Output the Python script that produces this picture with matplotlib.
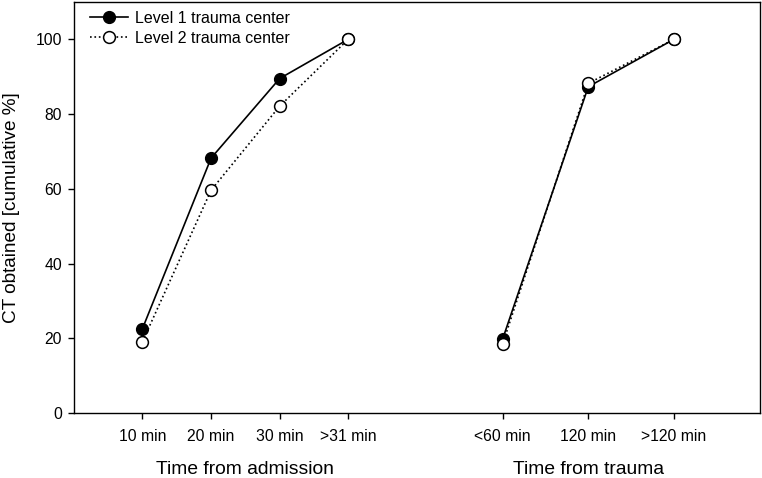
import numpy as np
import matplotlib.pyplot as plt

plt.rcParams['font.family'] = ['Liberation Sans', 'DejaVu Sans']

# group 1: time from admission, group 2: time from trauma
adm_labels = ['10 min', '20 min', '30 min', '>31 min']
adm_x = [10, 20, 30, 40]
adm_l1 = [22.6, 68.2, 89.5, 100]
adm_l2 = [19.1, 59.6, 82.1, 100]

tra_labels = ['<60 min', '120 min', '>120 min']
tra_x = [62.5, 75, 87.5]
tra_l1 = [19.7, 87.3, 100]
tra_l2 = [18.4, 88.2, 100]

yticks = [0, 20, 40, 60, 80, 100]

fig = plt.figure(figsize=(7.62, 4.78), dpi=100)
ax = fig.add_axes([0.097, 0.136, 0.9, 0.86])

l1 = dict(color='black', lw=1.2, marker='o', ms=8.5, mfc='black', mec='black', mew=1)
l2 = dict(color='black', lw=1.2, ls=':', marker='o', ms=8.5, mfc='white', mec='black', mew=1.1)

ax.plot(adm_x, adm_l1, label='Level 1 trauma center', **l1)
ax.plot(tra_x, tra_l1, **l1)
ax.plot(adm_x, adm_l2, label='Level 2 trauma center', **l2)
ax.plot(tra_x, tra_l2, **l2)

ax.set_xlim(0, 100)
ax.set_ylim(0, 110)
ax.set_xticks(adm_x + tra_x)
ax.set_xticklabels(adm_labels + tra_labels)
ax.set_yticks(yticks)
ax.tick_params(direction='out', length=4.5, width=1, labelsize=11.3, colors='black')
ax.tick_params(axis='x', pad=7)
ax.tick_params(axis='y', pad=4)
for s in ax.spines.values():
    s.set_linewidth(1)

ax.set_ylabel('CT obtained [cumulative %]', fontsize=13.7, labelpad=11)
ax.text(np.mean(adm_x), -0.148, 'Time from admission', fontsize=13.9,
        ha='center', va='baseline', transform=ax.get_xaxis_transform())
ax.text(np.mean(tra_x), -0.148, 'Time from trauma', fontsize=13.9,
        ha='center', va='baseline', transform=ax.get_xaxis_transform())

ax.legend(loc='upper left', bbox_to_anchor=(0.014, 0.994), borderaxespad=0,
          frameon=False, fontsize=11.5, handlelength=2.4,
          labelspacing=0.3, handletextpad=0.45)

fig.savefig('out.png', dpi=100)
